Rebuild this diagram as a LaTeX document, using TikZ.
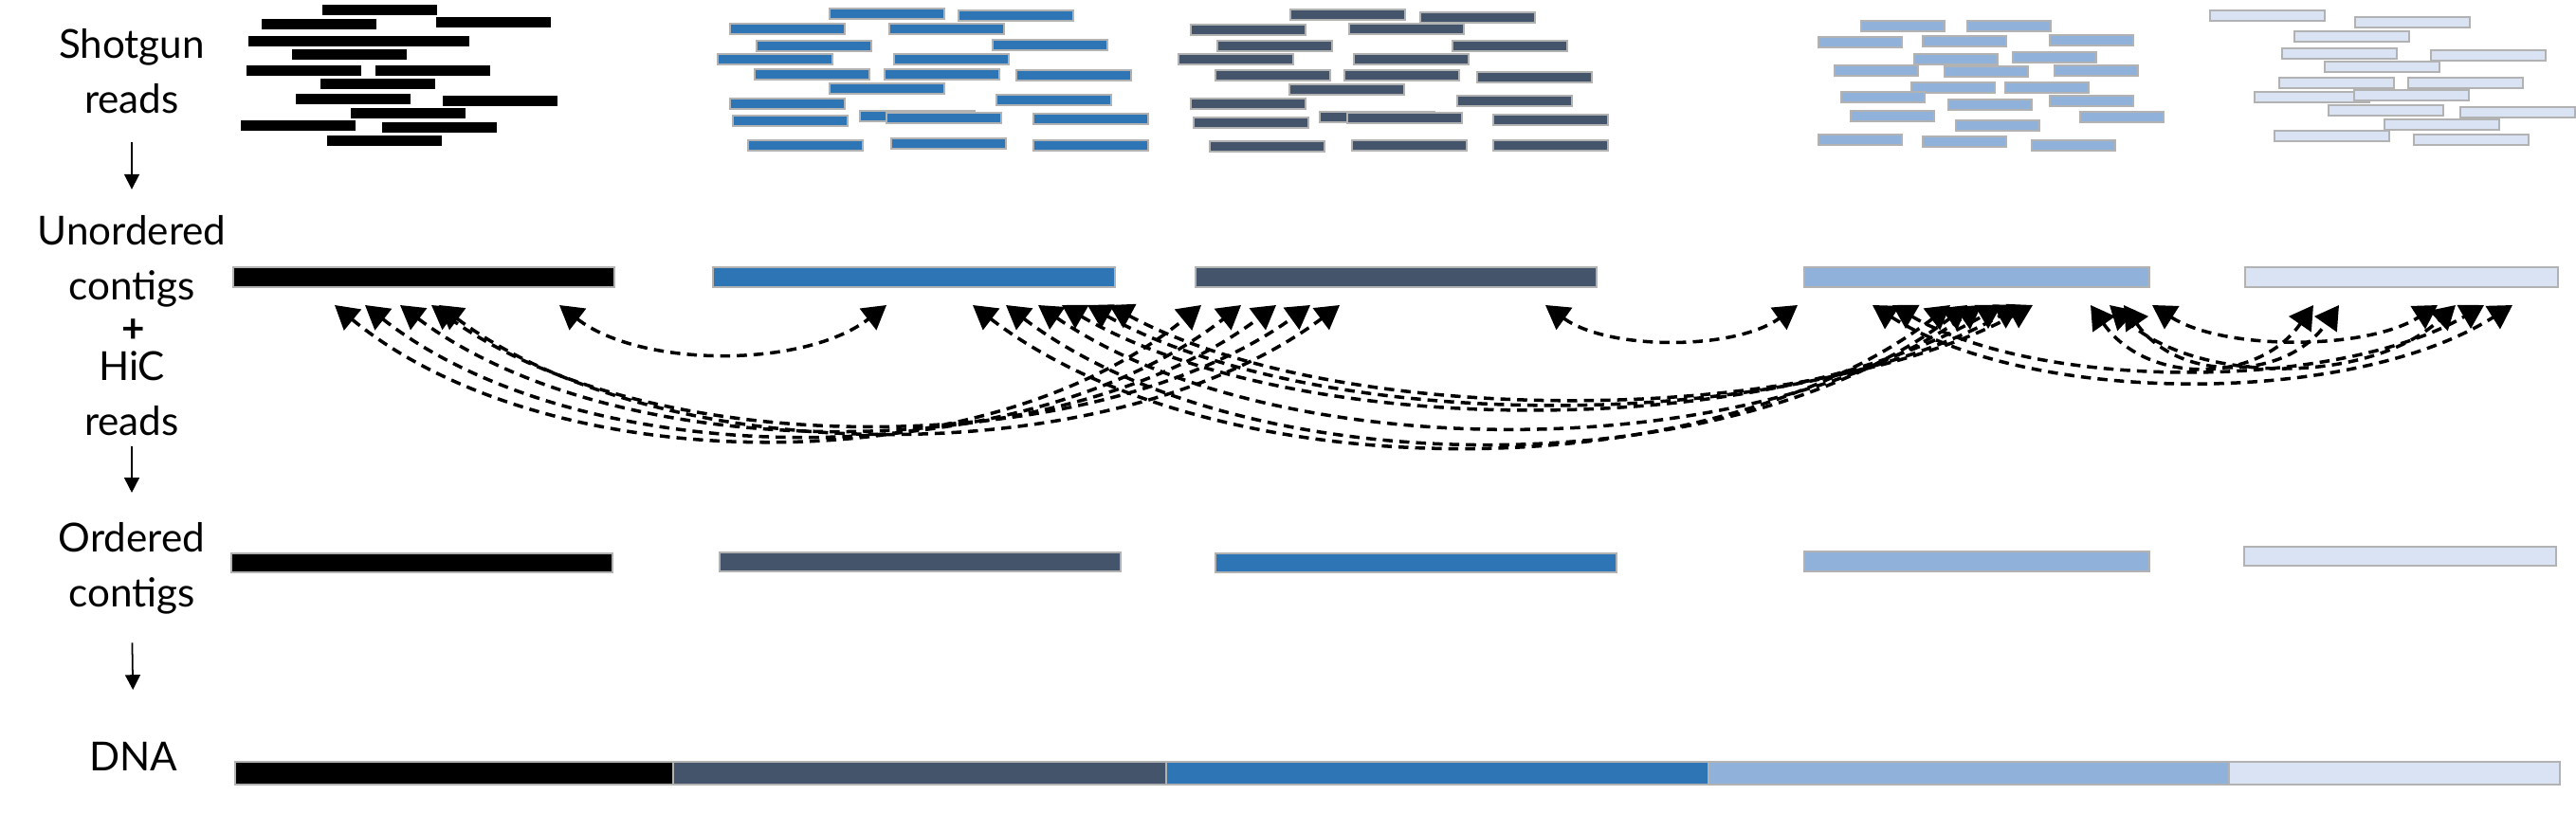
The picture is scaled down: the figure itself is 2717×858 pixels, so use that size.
\documentclass[tikz,border=0pt]{standalone}
\usepackage{fontspec}
\setmainfont{Lato}
\usetikzlibrary{arrows.meta}
\definecolor{ctgblue}{HTML}{2E75B6}
\definecolor{ctgslate}{HTML}{44546A}
\definecolor{ctglight}{HTML}{8FB1DA}
\definecolor{ctgpale}{HTML}{DAE3F3}
\begin{document}
\begin{tikzpicture}[x=0.01cm,y=-0.01cm,
    lbl/.style={inner sep=0pt, align=center, font=\fontsize{12}{16.5}\selectfont},
    flow/.style={-{Triangle[length=4.5pt,width=4.5pt]}, line width=0.5pt},
    hic/.style={{Triangle[length=7pt,width=8pt]}-{Triangle[length=7pt,width=8pt]}, dash pattern=on 3pt off 2pt, line width=1pt},
    rd/.style={draw=black!30, line width=0.3pt}]
  \useasboundingbox (0,0) rectangle (2717,858);

  % labels on the left
  \node[lbl] (shot) at (139,75) {Shotgun\\reads};
  \node[lbl] (unord) at (139,276) {Unordered\\contigs};
  \node[lbl, font=\fontsize{12}{16.5}\selectfont\bfseries] (plus) at (141,349) {+};
  \node[lbl] (hic) at (139,415) {HiC\\reads};
  \node[lbl] (ord) at (139,600) {Ordered\\contigs};
  \node[lbl] (dna) at (141,798) {DNA};
  \draw[flow, shorten <=8.5pt, shorten >=7.7pt] (shot.south) -- (unord.north);
  \draw[flow, shorten <=3.1pt, shorten >=8.8pt] (hic.south) -- (ord.north);
  \draw[flow, shorten <=8.3pt, shorten >=15.4pt] (ord.south) -- (dna.north);

  % shotgun reads
  \foreach \x/\y in {340/5,276/20,460/18,262/38,374/38,308/52,260/69,396/69,338/83,312/99,467/101,370/114,254/127,403/129,345/143}
    \fill[black] (\x,\y) rectangle ++(121,11);
  \foreach \x/\y in {875/9,1011/11,770/25,938/25,798/43,1047/42,757/57,943/57,796/73,933/73,1072/74,875/88,770/104,1051/100,907/117,935/119,773/122,1090/120,789/148,940/146,1090/148}
    \filldraw[rd, fill=ctgblue] (\x,\y) rectangle ++(121,11);
  \foreach \x/\y in {1361/10,1498/13,1256/26,1423/25,1284/43,1532/43,1243/57,1428/57,1282/74,1418/74,1558/76,1360/89,1256/104,1537/101,1392/118,1421/119,1259/124,1575/121,1276/149,1426/148,1575/148}
    \filldraw[rd, fill=ctgslate] (\x,\y) rectangle ++(121,11);
  \foreach \x/\y in {1963/22,2075/22,1918/39,2028/38,2162/37,2019/57,2123/55,1935/69,2051/70,2167/69,2016/87,2115/87,1942/97,2055/105,2162/101,1952/117,2194/118,2063/127,1918/142,2028/144,2143/148}
    \filldraw[rd, fill=ctglight] (\x,\y) rectangle ++(88,11);
  \foreach \x/\y in {2331/11,2484/18,2420/33,2407/51,2564/53,2452/65,2404/82,2540/82,2378/97,2483/95,2456/111,2595/113,2515/126,2399/138,2546/142}
    \filldraw[draw=black!30, line width=0.4pt, fill=ctgpale] (\x,\y) rectangle ++(121,11);

  % contigs, unordered then ordered
  \foreach \a/\b/\c in {246/648/black,752/1176/ctgblue,1261/1684/ctgslate,1903/2267/ctglight,2368/2698/ctgpale}
    \filldraw[rd, fill=\c] (\a,282) rectangle (\b,303);
  \filldraw[rd, fill=black] (244,584) rectangle (646,604);
  \filldraw[rd, fill=ctgslate] (759,583) rectangle (1182,603);
  \filldraw[rd, fill=ctgblue] (1282,584) rectangle (1705,604);
  \filldraw[rd, fill=ctglight] (1903,582) rectangle (2267,603);
  \filldraw[rd, fill=ctgpale] (2367,577) rectangle (2696,597);

  % DNA
  \foreach \a/\b/\c in {248/710/black,710/1230/ctgslate,1230/1802/ctgblue,1802/2351/ctglight,2351/2700/ctgpale}
    \filldraw[rd, fill=\c] (\a,804) rectangle (\b,828);

  % HiC links
  \foreach \a/\b/\d [count=\i] in {353/1267/463,385/1309/458,422/1346/452,455/1382/447,463/1413/455,
      590/935/372,1630/1896/358,
      1026/2057/470,1061/2075/466,1095/2090/450,1120/2111/430,1147/2130/425,1170/2144/420,
      1975/2650/402,1996/2620/390,2225/2590/385,2270/2571/358,2205/2440/385,2240/2467/383}{
    \pgfmathsetmacro\h{4/3*(\d-322)}
    \pgfmathsetmacro\k{0.25*(\b-\a)}
    \coordinate (l\i) at (\a,322);
    \coordinate (r\i) at (\b,322);
    \draw[hic] (l\i) .. controls +(\k,\h) and +(-\k,\h) .. (r\i);
  }
\end{tikzpicture}
\end{document}
